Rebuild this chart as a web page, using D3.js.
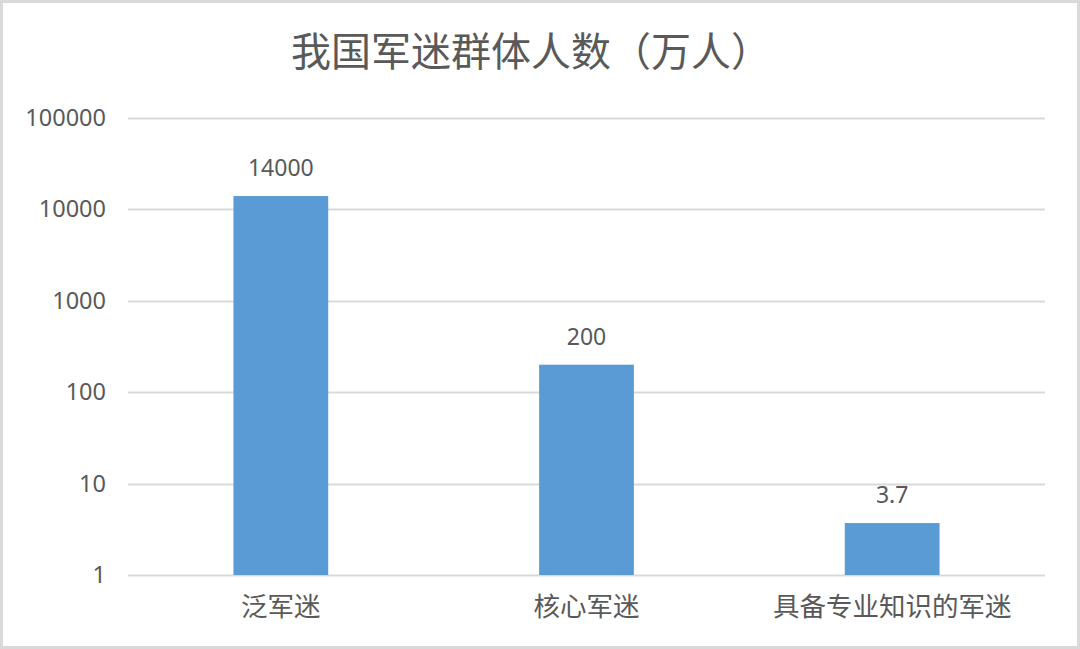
<!DOCTYPE html>
<html>
<head>
<meta charset="utf-8">
<script src="https://cdn.jsdelivr.net/npm/d3@7"></script>
<style>
  html, body { margin: 0; padding: 0; background: #fff; }
  svg { display: block; font-family: "Noto Sans CJK SC", "Noto Sans", sans-serif; }
</style>
</head>
<body>
<svg id="chart" width="1080" height="649"></svg>
<script>
'use strict';

const categories = ['泛军迷', '核心军迷', '具备专业知识的军迷'];
const values = [14000, 200, 3.7];
const labels = ['14000', '200', '3.7'];
const yTicks = [1, 10, 100, 1000, 10000, 100000];
const title = '我国军迷群体人数（万人）';

const W = 1080, H = 649;
const margin = {top: 118, right: 35, bottom: 74, left: 128};
const textColor = '#595959';

const svg = d3.select('#chart');

// outer chart border
svg.append('rect')
    .attr('x', 1.5).attr('y', 1.5)
    .attr('width', W - 3).attr('height', H - 3)
    .attr('fill', '#fff')
    .attr('stroke', '#d9d9d9')
    .attr('stroke-width', 3);

const x = d3.scaleBand()
    .domain(categories)
    .range([margin.left, W - margin.right])
    .paddingInner(0.69)
    .paddingOuter(0.345);

const y = d3.scaleLog()
    .domain([1, 100000])
    .range([H - margin.bottom, margin.top]);

// gridlines
svg.append('g')
    .selectAll('line')
    .data(yTicks)
    .join('line')
    .attr('x1', margin.left)
    .attr('x2', W - margin.right)
    .attr('y1', d => Math.round(y(d)) + 0.5)
    .attr('y2', d => Math.round(y(d)) + 0.5)
    .attr('stroke', '#d9d9d9')
    .attr('stroke-width', 2);

// y axis labels
const yAxis = d3.axisLeft(y)
    .tickValues(yTicks)
    .tickFormat(d3.format('d'))
    .tickSize(0)
    .tickPadding(22);

svg.append('g')
    .attr('transform', `translate(${margin.left},0)`)
    .call(yAxis)
    .call(g => g.select('.domain').remove())
    .call(g => g.selectAll('text')
        .attr('fill', textColor)
        .attr('font-size', 23.5)
        .attr('font-family', '"Noto Sans", sans-serif'));

// bars
svg.append('g')
    .selectAll('rect')
    .data(values)
    .join('rect')
    .attr('x', (d, i) => x(categories[i]))
    .attr('width', x.bandwidth())
    .attr('y', d => y(d))
    .attr('height', d => y(1) - y(d))
    .attr('fill', '#5b9bd5');

// data labels
svg.append('g')
    .selectAll('text')
    .data(values)
    .join('text')
    .attr('x', (d, i) => x(categories[i]) + x.bandwidth() / 2)
    .attr('y', d => y(d) - 20)
    .attr('text-anchor', 'middle')
    .attr('fill', textColor)
    .attr('font-size', 23)
    .attr('font-family', '"Noto Sans", sans-serif')
    .text((d, i) => labels[i]);

// x axis labels
const xAxis = d3.axisBottom(x).tickSize(0).tickPadding(22);

svg.append('g')
    .attr('transform', `translate(0,${H - margin.bottom})`)
    .call(xAxis)
    .call(g => g.select('.domain').remove())
    .call(g => g.selectAll('text')
        .attr('fill', textColor)
        .attr('font-size', 26.5)
        .attr('font-family', '"Noto Sans CJK SC", sans-serif'));

// title
svg.append('text')
    .attr('x', W / 2 - 9)
    .attr('y', 66)
    .attr('text-anchor', 'middle')
    .attr('fill', textColor)
    .attr('font-size', 40)
    .text(title);
</script>
</body>
</html>
